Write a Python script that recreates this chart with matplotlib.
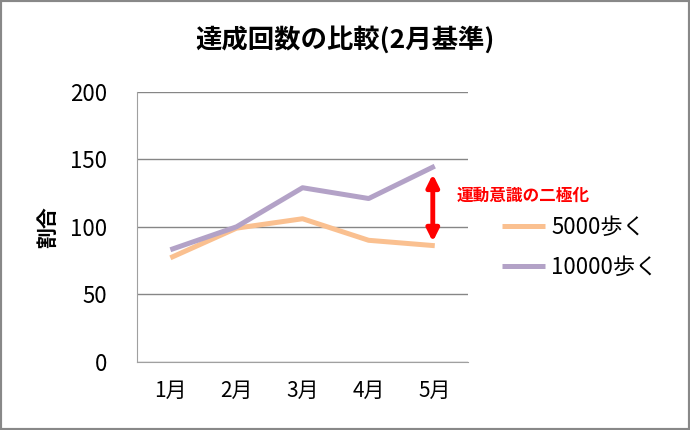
import matplotlib.pyplot as plt
from matplotlib.patches import Rectangle

plt.rcParams['font.family'] = ['Noto Sans CJK JP', 'DejaVu Sans']

months = ['1月', '2月', '3月', '4月', '5月']
steps_5000 = [77, 99, 106, 90, 86]
steps_10000 = [83, 100, 129, 121, 145]
yticks = [0, 50, 100, 150, 200]

fig = plt.figure(figsize=(6.9, 4.3), dpi=100)
ax = fig.add_axes([0.199, 0.159, 0.479, 0.627])

x = range(len(months))
ax.plot(x, steps_5000, color='#FAC090', lw=3.6, label='5000歩く', solid_capstyle='butt')
ax.plot(x, steps_10000, color='#B3A2C7', lw=3.6, label='10000歩く', solid_capstyle='butt')

ax.set_xlim(-0.5, 4.5)
ax.set_ylim(0, 200)
ax.set_yticks(yticks)
ax.set_xticks(list(x))
ax.set_xticklabels(months)
ax.tick_params(axis='y', labelsize=16, length=0, pad=22)
ax.tick_params(axis='x', labelsize=15, length=0, pad=13)
ax.grid(axis='y', color='#868686', lw=1)
ax.set_axisbelow(True)
for s in ['top', 'right']:
    ax.spines[s].set_visible(False)
ax.spines['left'].set_color('#a0a0a0')
ax.spines['bottom'].set_color('#a0a0a0')

ax.set_ylabel('割合', fontsize=15, fontweight='bold', labelpad=8)

# arrow showing the gap
ax.annotate('', xy=(3.97, 89), xytext=(3.97, 139),
            arrowprops=dict(arrowstyle='<|-|>', color='red', lw=3.5, mutation_scale=18,
                            shrinkA=0, shrinkB=0))
fig.text(0.661, 0.545, '運動意識の二極化', color='red', fontsize=12, fontweight='bold',
         va='center', ha='left')

fig.legend(loc='center left', bbox_to_anchor=(0.712, 0.425), frameon=False,
           fontsize=16, handlelength=1.9, handletextpad=0.3, labelspacing=0.75,
           borderpad=0)

fig.suptitle('達成回数の比較(2月基準)', fontsize=19, fontweight='bold', y=0.94)

fig.patches.append(Rectangle((0, 0), 1, 1, transform=fig.transFigure, fill=False,
                             edgecolor='#888888', lw=3))

fig.savefig('out.png', dpi=100)
